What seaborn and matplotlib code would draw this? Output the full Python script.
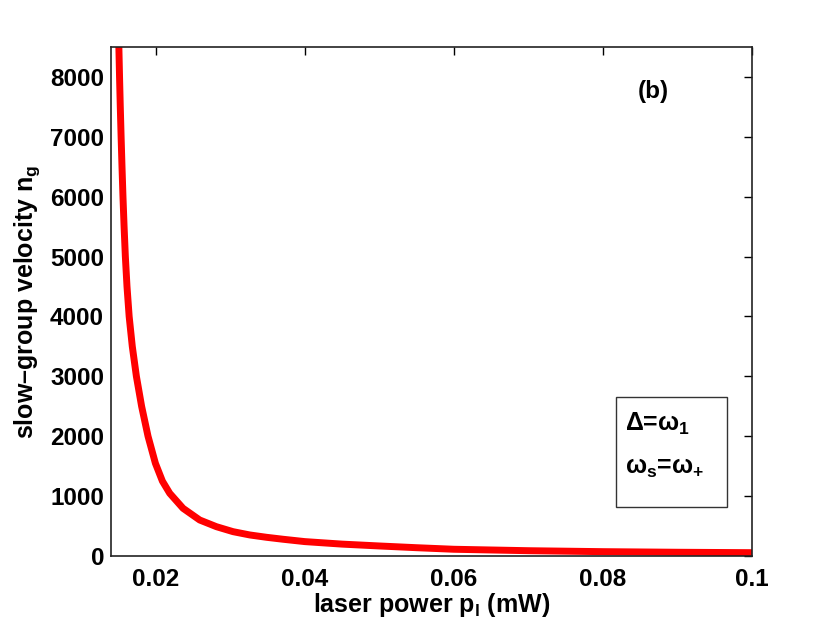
import numpy as np
import pandas as pd
import matplotlib
matplotlib.use("Agg")
import matplotlib.pyplot as plt
import seaborn as sns

# values
laser_power = [0.01506, 0.01515, 0.01525, 0.01536, 0.01548, 0.01561, 0.01576, 0.01593,
               0.01615, 0.01644, 0.01686, 0.01741, 0.01811, 0.01897, 0.01996, 0.0209,
               0.02188, 0.02367, 0.0259, 0.02815, 0.03038, 0.03262, 0.03486, 0.0371,
               0.040, 0.045, 0.050, 0.055, 0.060, 0.070, 0.080, 0.090, 0.100]
group_index = [8500, 8000, 7500, 7000, 6500, 6000, 5500, 5000,
               4500, 4000, 3500, 3000, 2500, 2000, 1548, 1250,
               1047, 796, 601, 489, 406, 351, 312, 279,
               240, 198, 167, 138, 112, 88, 72, 62, 55]

x_ticks = [0.02, 0.04, 0.06, 0.08, 0.1]
x_ticklabels = ["0.02", "0.04", "0.06", "0.08", "0.1"]
y_ticks = [0, 1000, 2000, 3000, 4000, 5000, 6000, 7000, 8000]

df = pd.DataFrame({"p": laser_power, "ng": group_index})

sns.set_style("white")
plt.rcParams["font.family"] = ["Liberation Sans", "DejaVu Sans"]
plt.rcParams["font.weight"] = "bold"
plt.rcParams["text.color"] = "black"
plt.rcParams["axes.labelcolor"] = "black"
plt.rcParams["mathtext.fontset"] = "custom"
plt.rcParams["mathtext.rm"] = "Liberation Sans:bold"
plt.rcParams["mathtext.it"] = "Liberation Sans:bold"
plt.rcParams["mathtext.bf"] = "Liberation Sans:bold"

fig = plt.figure(figsize=(8.3, 6.32), dpi=100)
ax = fig.add_axes([0.1337, 0.1203, 0.7723, 0.8053])

sns.lineplot(data=df, x="p", y="ng", color="#ff0000", linewidth=5, ax=ax)

ax.set_xlim(0.014, 0.1)
ax.set_ylim(0, 8500)
ax.set_xticks(x_ticks)
ax.set_xticklabels(x_ticklabels)
ax.set_yticks(y_ticks)
ax.tick_params(direction="in", length=6, width=1, top=True, right=True,
               labelsize=17.5, colors="black", labelcolor="black")
ax.tick_params(axis="x", pad=9)
ax.tick_params(axis="y", pad=5)
for lab in ax.get_xticklabels() + ax.get_yticklabels():
    lab.set_fontweight("bold")
for s in ax.spines.values():
    s.set_color("#222222")
    s.set_linewidth(1.2)

ax.set_xlabel(r"laser power p$_{\mathrm{l}}$ (mW)", fontsize=18, fontweight="bold", labelpad=0)
ax.set_ylabel(r"slow–group velocity n$_{\mathrm{g}}$", fontsize=18, fontweight="bold", labelpad=6)

ax.text(0.0868, 7750, "(b)", fontsize=17.5, fontweight="bold", ha="center", va="center")

box = plt.Rectangle((0.0817, 820), 0.0149, 1840, fill=False, edgecolor="#333333",
                    linewidth=1.0, zorder=3)
ax.add_patch(box)
ax.text(0.0830, 2200, r"$\Delta$=$\omega_{\mathrm{1}}$", fontsize=18, fontweight="bold",
        ha="left", va="center")
ax.text(0.0830, 1470, r"$\omega_{\mathrm{s}}$=$\omega_{\mathrm{+}}$", fontsize=18,
        fontweight="bold", ha="left", va="center")

fig.savefig("out.png", dpi=100)
